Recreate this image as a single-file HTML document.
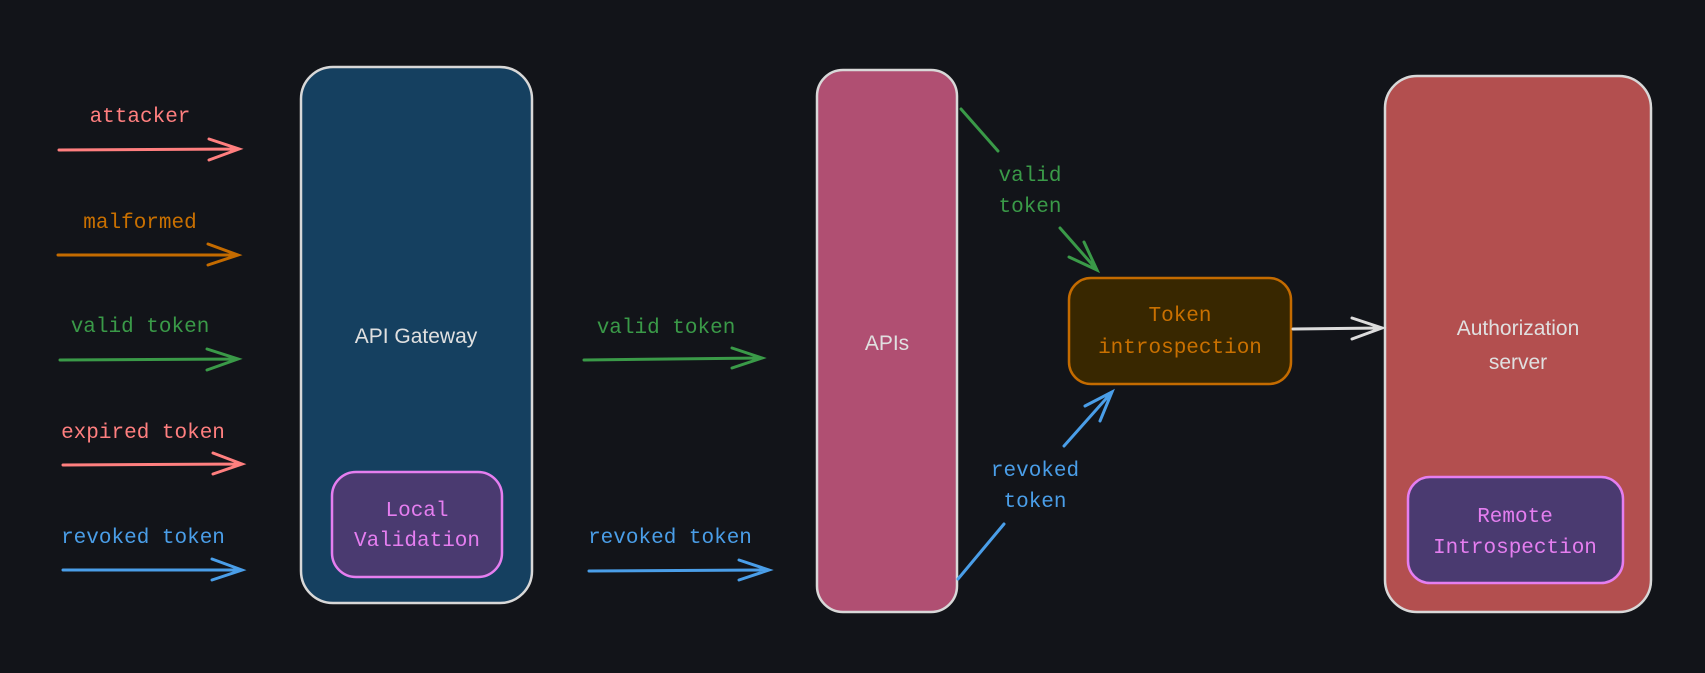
<!DOCTYPE html>
<html><head><meta charset="utf-8"><style>
html,body{margin:0;padding:0;background:#121419;}
svg{display:block}
.m{font-family:"Liberation Mono",monospace;font-size:21px;text-anchor:middle}
.s{font-family:"Liberation Sans",sans-serif;font-size:21px;text-anchor:middle;fill:#e0e0e0}
</style></head><body>
<svg width="1705" height="673" viewBox="0 0 1705 673" xmlns="http://www.w3.org/2000/svg">
<rect width="1705" height="673" fill="#121419"/>
<!-- boxes -->
<rect x="301" y="67" width="231" height="536" rx="32" fill="#154060" stroke="#d8d8d8" stroke-width="2.5"/>
<rect x="332" y="472" width="170" height="105" rx="24" fill="#4a3a70" stroke="#e57ef0" stroke-width="2.5"/>
<rect x="817" y="70" width="140" height="542" rx="26" fill="#b04f72" stroke="#d8d8d8" stroke-width="2.5"/>
<rect x="1069" y="278" width="222" height="106" rx="22" fill="#382700" stroke="#c46b00" stroke-width="2.5"/>
<rect x="1385" y="76" width="266" height="536" rx="32" fill="#b34f4f" stroke="#d8d8d8" stroke-width="2.5"/>
<rect x="1408" y="477" width="215" height="106" rx="22" fill="#4a3a70" stroke="#e57ef0" stroke-width="2.5"/>
<text class="s" x="416" y="343">API Gateway</text>
<text class="s" x="887" y="350">APIs</text>
<text class="s" x="1518" y="335">Authorization</text>
<text class="s" x="1518" y="369">server</text>
<text class="m" x="417" y="516" fill="#e57ef0">Local</text>
<text class="m" x="417" y="546" fill="#e57ef0">Validation</text>
<text class="m" x="1180" y="321" fill="#c97000">Token</text>
<text class="m" x="1180" y="353" fill="#c97000">introspection</text>
<text class="m" x="1515" y="522" fill="#e57ef0">Remote</text>
<text class="m" x="1515" y="553" fill="#e57ef0">Introspection</text>
<!-- left arrows -->
<g fill="none" stroke-width="3" stroke-linecap="round">
<g stroke="#ff7f7f"><path d="M59 150 L239 149 M209 139 L239 149 L209 160"/></g>
<g stroke="#c46b00"><path d="M58 255 L238 255 M208 244 L238 255 L208 265"/></g>
<g stroke="#3a9a48"><path d="M60 360 L238 359 M207 349 L238 359 L207 370"/></g>
<g stroke="#ff7f7f"><path d="M63 465 L242 464 M213 453 L242 464 L213 474"/></g>
<g stroke="#4a9ee8"><path d="M63 570 L242 570 M212 559 L242 570 L212 580"/></g>
<g stroke="#3a9a48"><path d="M584 360 L762 358 M732 348 L762 358 L732 368"/></g>
<g stroke="#4a9ee8"><path d="M589 571 L769 570 M739 560 L769 570 L739 580"/></g>
<g stroke="#3a9a48"><path d="M961 109 L998 151 M1060 228 L1097 270 M1084 242 L1097 270 L1069 257"/></g>
<g stroke="#4a9ee8"><path d="M958 579 L1004 524 M1064 446 L1112 392 M1100 421 L1112 392 L1085 406"/></g>
<g stroke="#dcdcdc"><path d="M1293 329 L1382 328 M1352 318 L1382 328 L1352 339"/></g>
</g>
<!-- labels -->
<text class="m" x="140" y="122" fill="#ff7f7f">attacker</text>
<text class="m" x="140" y="228" fill="#c97000">malformed</text>
<text class="m" x="140" y="332" fill="#3a9a48">valid token</text>
<text class="m" x="143" y="438" fill="#ff7f7f">expired token</text>
<text class="m" x="143" y="543" fill="#4a9ee8">revoked token</text>
<text class="m" x="666" y="333" fill="#3a9a48">valid token</text>
<text class="m" x="670" y="543" fill="#4a9ee8">revoked token</text>
<text class="m" x="1030" y="181" fill="#3a9a48">valid</text>
<text class="m" x="1030" y="212" fill="#3a9a48">token</text>
<text class="m" x="1035" y="476" fill="#4a9ee8">revoked</text>
<text class="m" x="1035" y="507" fill="#4a9ee8">token</text>
</svg>
</body></html>
